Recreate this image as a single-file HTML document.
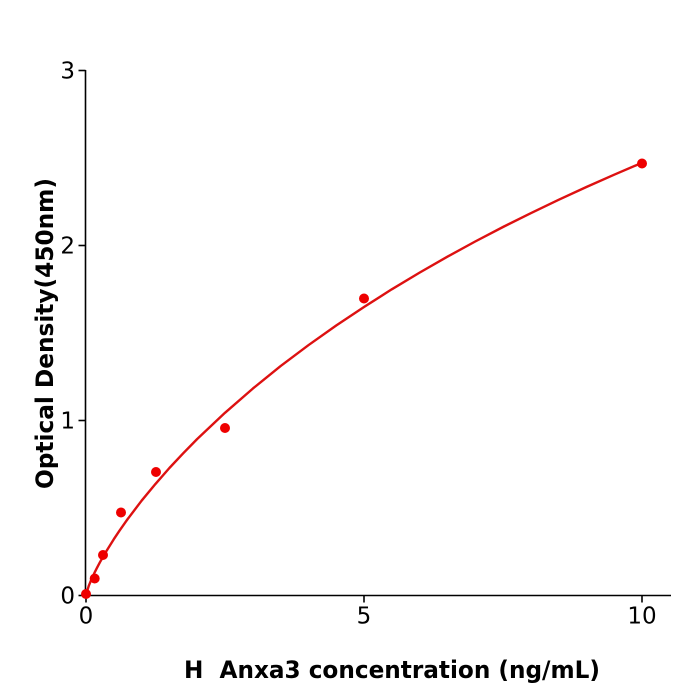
<!DOCTYPE html>
<html>
<head>
<meta charset="utf-8">
<style>
  html, body { margin: 0; padding: 0; background: #ffffff; }
  svg { display: block; }
  text { font-family: "DejaVu Sans", "Liberation Sans", sans-serif; fill: #000; }
</style>
</head>
<body>
<svg width="700" height="700" viewBox="0 0 700 700" xmlns="http://www.w3.org/2000/svg">
  <rect width="700" height="700" fill="#ffffff"/>

  <!-- axes -->
  <line x1="85.5" y1="70" x2="85.5" y2="596" stroke="#000" stroke-width="1.6"/>
  <line x1="85" y1="595.5" x2="671" y2="595.5" stroke="#000" stroke-width="1.6"/>

  <!-- y ticks -->
  <g stroke="#000" stroke-width="1.6">
    <line x1="78.5" y1="595.5" x2="85.5" y2="595.5"/>
    <line x1="78.5" y1="420.5" x2="85.5" y2="420.5"/>
    <line x1="78.5" y1="245.5" x2="85.5" y2="245.5"/>
    <line x1="78.5" y1="70.5" x2="85.5" y2="70.5"/>
  </g>
  <!-- x ticks -->
  <g stroke="#000" stroke-width="1.6">
    <line x1="86" y1="595.5" x2="86" y2="602.5"/>
    <line x1="364" y1="595.5" x2="364" y2="602.5"/>
    <line x1="642" y1="595.5" x2="642" y2="602.5"/>
  </g>

  <!-- y tick labels -->
  <g font-size="23" text-anchor="end">
    <text x="75" y="603.5">0</text>
    <text x="75" y="428.5">1</text>
    <text x="75" y="253.5">2</text>
    <text x="75" y="78.5">3</text>
  </g>
  <!-- x tick labels -->
  <g font-size="23" text-anchor="middle">
    <text x="86" y="623.5">0</text>
    <text x="364" y="623.5">5</text>
    <text x="642" y="623.5">10</text>
  </g>

  <!-- axis titles -->
  <text x="184" y="678" font-size="24" font-weight="bold" style="white-space:pre" xml:space="preserve" textLength="416" lengthAdjust="spacingAndGlyphs">H  Anxa3 concentration (ng/mL)</text>
  <text transform="translate(53,489) rotate(-90)" x="0" y="0" font-size="24" font-weight="bold" textLength="311" lengthAdjust="spacingAndGlyphs">Optical Density(450nm)</text>

  <!-- fitted curve -->
  <polyline fill="none" stroke="#dd1111" stroke-width="2.4" stroke-linejoin="round" stroke-linecap="round"
    points="86,595 88.78,585.8 91.56,579.1 94.34,573.1 97.12,567.6 99.9,562.3 105.46,552.6 113.8,539.2 119.4,530.8 127.7,519.0 141.6,500.7 155.5,483.9 169.4,468.0 183.3,453.2 197.2,439.0 225.0,412.8 252.8,388.6 280.6,366.1 308.4,345.2 336.2,325.5 364,307 391.8,289.3 419.6,272.6 447.4,256.7 475.2,241.5 503,227.0 530.8,213.2 558.6,199.8 586.4,187.0 614.2,174.7 642,162.75"/>

  <!-- data points -->
  <g fill="#ee0000">
    <circle cx="86" cy="594" r="5"/>
    <circle cx="94.7" cy="578.5" r="5"/>
    <circle cx="103" cy="555" r="5"/>
    <circle cx="121" cy="512.5" r="5"/>
    <circle cx="156" cy="472" r="5"/>
    <circle cx="225" cy="428" r="5"/>
    <circle cx="364" cy="298.5" r="5"/>
    <circle cx="642" cy="163.5" r="5"/>
  </g>
</svg>
</body>
</html>
